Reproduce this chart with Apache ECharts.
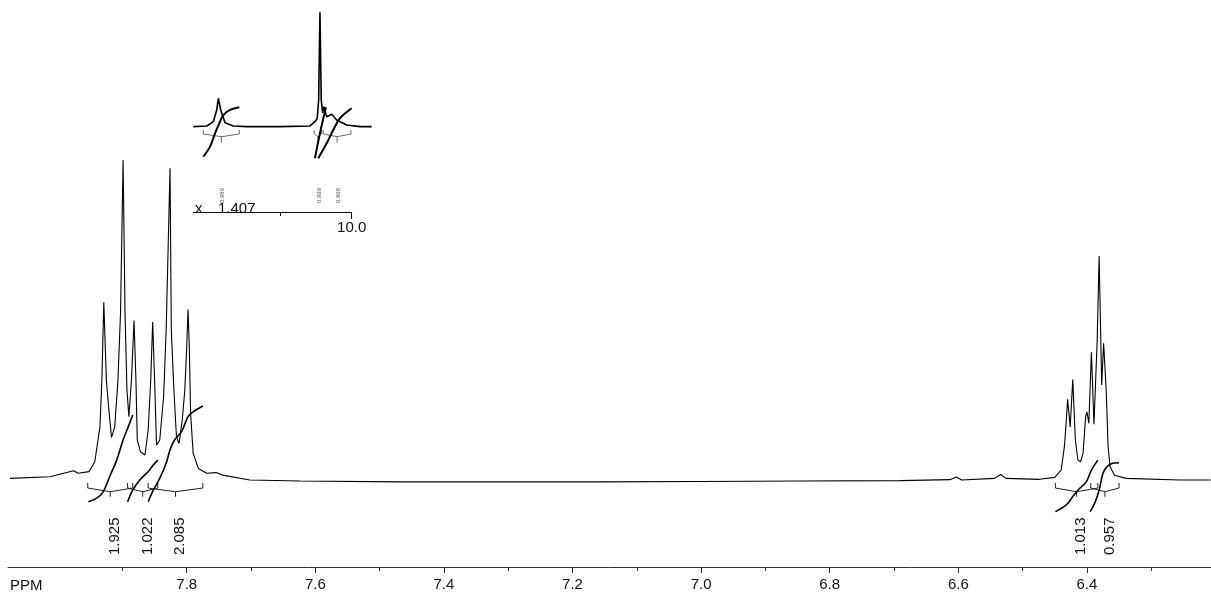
<!DOCTYPE html>
<html>
<head>
<meta charset="utf-8">
<script src="https://cdn.jsdelivr.net/npm/echarts@6/dist/echarts.min.js"></script>
<style>
html,body{margin:0;padding:0;background:#fff;}
#chart{width:1211px;height:595px;}
</style>
</head>
<body>
<div id="chart"></div>
<script>
// ---------- main spectrum (ppm, relative intensity) ----------
const specPpm = [8.075, 8.013, 7.976, 7.969, 7.952, 7.943, 7.935, 7.932, 7.929, 7.925,
  7.922, 7.917, 7.912, 7.907, 7.903, 7.899, 7.896, 7.893, 7.890, 7.886,
  7.882, 7.879, 7.877, 7.872, 7.865, 7.860, 7.856, 7.853, 7.850, 7.847,
  7.842, 7.836, 7.832, 7.826, 7.824, 7.820, 7.816, 7.812, 7.807, 7.803,
  7.800, 7.798, 7.796, 7.794, 7.790, 7.782, 7.769, 7.754, 7.744, 7.702,
  7.624, 7.469, 7.313, 7.158, 7.002, 6.847, 6.691, 6.613, 6.603, 6.595,
  6.544, 6.534, 6.526, 6.474, 6.450, 6.440, 6.435, 6.432, 6.430, 6.426,
  6.422, 6.418, 6.414, 6.410, 6.406, 6.402, 6.400, 6.397, 6.393, 6.389,
  6.384, 6.381, 6.377, 6.374, 6.370, 6.367, 6.364, 6.357, 6.339, 6.256, 6.208];
const specInt = [-0.1, 0.4, 2.3, 1.5, 2.0, 5.1, 16.0, 30.6, 54.9, 30.6,
  23.3, 12.7, 16.0, 30.6, 51.6, 99.4, 51.6, 27.5, 19.2, 30.6,
  49.2, 30.6, 11.9, 8.2, 7.2, 15.0, 30.6, 48.8, 30.6, 10.3,
  11.9, 25.4, 46.3, 96.8, 46.3, 27.5, 12.9, 10.8, 18.1, 27.5,
  41.0, 52.7, 41.0, 20.2, 7.7, 3.0, 1.5, 1.7, 0.9, -0.6,
  -0.9, -1.2, -1.2, -1.2, -1.1, -0.9, -0.8, -0.5, 0.3, -0.6,
  -0.1, 1.1, -0.1, -0.4, 0.2, 2.5, 9.8, 18.1, 24.6, 16.0,
  30.8, 11.9, 5.6, 5.1, 7.7, 19.2, 20.7, 17.1, 39.3, 16.8,
  43.1, 69.4, 29.1, 42.1, 27.5, 9.8, 3.5, 0.9, -0.1, -0.6, -0.6];

// integral traces (ppm, value)
const intL1 = [[7.953,-7.4],[7.940,-6.3],[7.930,-4.3],[7.920,0.4],[7.909,5.6],[7.899,11.9],[7.891,16.0],[7.884,19.7]];
const intL2 = [[7.892,-7.4],[7.884,-3.8],[7.873,-0.6],[7.860,2.0],[7.852,4.1],[7.845,5.6]];
const intL3 = [[7.860,-7.4],[7.852,-3.8],[7.842,-0.1],[7.832,4.6],[7.826,8.8],[7.819,11.9],[7.808,14.5],[7.798,19.2],[7.790,20.7],[7.775,22.5]];
const intR1 = [[6.449,-10.5],[6.432,-8.4],[6.422,-5.8],[6.414,-3.8],[6.401,-1.2],[6.393,2.5],[6.383,5.6]];
const intR2 = [[6.395,-10.5],[6.388,-7.9],[6.381,-3.8],[6.375,1.5],[6.369,3.5],[6.360,4.6],[6.350,4.8]];

// integration regions and values
const integralRanges = [[7.954,7.884],[7.892,7.845],[7.860,7.775],[6.449,6.383],[6.394,6.350]];
const integralLabels = ['1.925','1.022','2.085','1.013','0.957'];

// axis ticks
const majorTicks = [7.8, 7.6, 7.4, 7.2, 7.0, 6.8, 6.6, 6.4];
const tickLabels = ['7.8','7.6','7.4','7.2','7.0','6.8','6.6','6.4'];
const minorTicks = [7.9, 7.7, 7.5, 7.3, 7.1, 6.9, 6.7, 6.5, 6.3];

// ---------- inset (expanded region) ----------
const insetPpm = [11.108, 11.014, 10.968, 10.944, 10.933, 10.916, 10.886, 10.828, 10.734, 10.501,
  10.292, 10.257, 10.241, 10.231, 10.222, 10.213, 10.203, 10.194, 10.175, 10.140,
  10.105, 10.035, 9.942, 9.860];
const insetInt = [0.3, 0.9, 4.6, 14.8, 25.0, 14.8, 3.7, 0.9, 0.3, 0.3,
  0.9, 4.6, 7.5, 23.5, 99.7, 23.5, 12.2, 17.6, 8.9, 11.0,
  6.1, 1.7, 0.3, 0.3];
const insetIntA = [[11.038,-25.8],[10.991,-17.1],[10.956,-5.5],[10.926,3.2],[10.898,10.4],[10.851,14.8],[10.786,17.1]];
const insetIntB = [[10.257,-27.2],[10.222,-5.5],[10.180,17.1]];
const insetIntC = [[10.234,-27.2],[10.175,-14.2],[10.129,-2.6],[10.082,7.6],[10.000,16.3]];
const insetRanges = [[11.038,10.786],[10.262,10.210],[10.199,10.005]];
const insetLabels = ['0.989','0.999','0.968'];
const insetMajorTicks = [10.0];
const insetTickLabels = ['10.0'];
const insetMinorTicks = [10.5];
const insetScaleText = ['x', '1.407'];

const FONT = '"Liberation Sans", Arial, Helvetica, sans-serif';

function labelFor(ticks, labels) {
  return function (v) {
    const i = ticks.findIndex(t => Math.abs(t - v) < 1e-6);
    return i >= 0 ? labels[i] : '';
  };
}

function bracketRenderer(labels, st) {
  return function (params, api) {
    const a = api.coord([api.value(0), 0]);
    const b = api.coord([api.value(1), 0]);
    const y0 = a[1];
    const cx = (a[0] + b[0]) / 2;
    const ls = { stroke: st.color, lineWidth: st.lw, fill: 'none' };
    return {
      type: 'group',
      children: [
        { type: 'polyline', shape: { points: [[a[0], y0 + st.t1], [a[0], y0 + st.t2], [cx, y0 + st.c], [b[0], y0 + st.t2], [b[0], y0 + st.t1]] }, style: ls },
        { type: 'line', shape: { x1: cx, y1: y0 + st.c, x2: cx, y2: y0 + st.c2 }, style: ls },
        { type: 'text', x: cx + st.dx, y: y0 + st.ty, rotation: Math.PI / 2,
          style: { text: labels[params.dataIndex], fill: st.textColor, fontSize: st.fs, fontFamily: FONT, align: 'left', verticalAlign: 'middle' } }
      ]
    };
  };
}

function intSeries(data, xi, yi, lw) {
  return { type: 'line', data: data, xAxisIndex: xi, yAxisIndex: yi, showSymbol: false, smooth: 0.35,
    lineStyle: { color: '#000', width: lw }, silent: true, animation: false, z: 3 };
}

const chart = echarts.init(document.getElementById('chart'), null, { renderer: 'canvas' });

const option = {
  backgroundColor: '#ffffff',
  animation: false,
  grid: [
    { left: 8, right: 0, top: 0, bottom: 28 },
    { left: 193.3, right: 839.3, top: 10, bottom: 380 },
    { left: 193.3, right: 859.3, top: 211, bottom: 383 }
  ],
  xAxis: [
    { type: 'value', gridIndex: 0, min: 6.207, max: 8.078, inverse: true, position: 'bottom',
      axisLine: { show: true, onZero: false, lineStyle: { color: '#333', width: 1 } },
      axisTick: { show: true, length: 6, customValues: majorTicks, lineStyle: { color: '#333' } },
      axisLabel: { show: true, customValues: majorTicks, formatter: labelFor(majorTicks, tickLabels),
        margin: 10, fontSize: 15, fontFamily: FONT, color: '#111' },
      splitLine: { show: false } },
    { type: 'value', gridIndex: 0, min: 6.207, max: 8.078, inverse: true, position: 'bottom',
      axisLine: { show: false, onZero: false },
      axisTick: { show: true, length: 4, customValues: minorTicks, lineStyle: { color: '#333' } },
      axisLabel: { show: false }, splitLine: { show: false } },
    { type: 'value', gridIndex: 1, min: 9.860, max: 11.108, inverse: true, show: false },
    { type: 'value', gridIndex: 2, min: 10.0, max: 11.108, inverse: true, position: 'bottom',
      axisLine: { show: true, onZero: false, lineStyle: { color: '#111', width: 1 } },
      axisTick: { show: true, length: 7, customValues: insetMajorTicks, lineStyle: { color: '#111' } },
      axisLabel: { show: true, customValues: insetMajorTicks, formatter: labelFor(insetMajorTicks, insetTickLabels),
        margin: 8, fontSize: 15, fontFamily: FONT, color: '#111' },
      splitLine: { show: false } },
    { type: 'value', gridIndex: 2, min: 10.0, max: 11.108, inverse: true, position: 'bottom',
      axisLine: { show: false, onZero: false },
      axisTick: { show: true, length: 4, customValues: insetMinorTicks, lineStyle: { color: '#111' } },
      axisLabel: { show: false }, splitLine: { show: false } }
  ],
  yAxis: [
    { type: 'value', gridIndex: 0, min: -27.8, max: 149.4, show: false },
    { type: 'value', gridIndex: 1, min: -76.5, max: 101.7, show: false },
    { type: 'value', gridIndex: 2, min: 0, max: 1, show: false }
  ],
  graphic: [
    { type: 'text', left: 10, top: 578, style: { text: 'PPM', fontSize: 15, fontFamily: FONT, fill: '#111' } },
    { type: 'text', left: 195, top: 201, style: { text: insetScaleText[0], fontSize: 15, fontFamily: FONT, fill: '#111' } },
    { type: 'text', left: 218, top: 201, style: { text: insetScaleText[1], fontSize: 15, fontFamily: FONT, fill: '#111' } }
  ],
  series: [
    { type: 'line', name: 'spectrum', data: specPpm.map((p, i) => [p, specInt[i]]), xAxisIndex: 0, yAxisIndex: 0,
      showSymbol: false, lineStyle: { color: '#000', width: 1.1 }, silent: true, animation: false, z: 2 },
    intSeries(intL1, 0, 0, 1.6),
    intSeries(intL2, 0, 0, 1.6),
    intSeries(intL3, 0, 0, 1.6),
    intSeries(intR1, 0, 0, 1.6),
    intSeries(intR2, 0, 0, 1.6),
    { type: 'custom', xAxisIndex: 0, yAxisIndex: 0, data: integralRanges.map(r => [r[0], r[1], 0]),
      encode: { x: [0, 1], y: 2 }, silent: true, animation: false, clip: false,
      renderItem: bracketRenderer(integralLabels, { color: '#222', lw: 1, t1: 5, t2: 10, c: 13.7, c2: 18.7, dx: 4.7, ty: 77, fs: 15, textColor: '#111' }) },
    { type: 'line', name: 'inset', data: insetPpm.map((p, i) => [p, insetInt[i]]), xAxisIndex: 2, yAxisIndex: 1,
      showSymbol: false, lineStyle: { color: '#000', width: 1.6 }, silent: true, animation: false, z: 2 },
    intSeries(insetIntA, 2, 1, 2),
    intSeries(insetIntB, 2, 1, 2),
    intSeries(insetIntC, 2, 1, 2),
    { type: 'custom', xAxisIndex: 2, yAxisIndex: 1, data: insetRanges.map(r => [r[0], r[1], 0]),
      encode: { x: [0, 1], y: 2 }, silent: true, animation: false, clip: false,
      renderItem: bracketRenderer(insetLabels, { color: '#444', lw: 0.8, t1: 3, t2: 7, c: 9.7, c2: 15.7, dx: 1, ty: 76, fs: 6, textColor: '#555' }) }
  ]
};
chart.setOption(option);
</script>
</body>
</html>
